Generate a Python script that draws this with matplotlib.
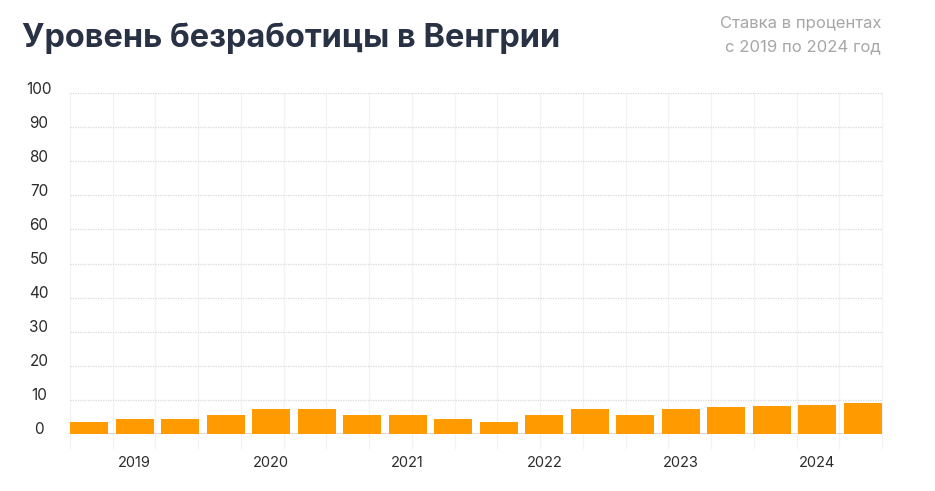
import matplotlib
matplotlib.use("Agg")
import matplotlib.pyplot as plt
import matplotlib.transforms as mtransforms
import numpy as np

plt.rcParams['font.family'] = ['Inter', 'DejaVu Sans']

# ---- data ----
quarters = ["2019 Q1", "2019 Q2", "2019 Q3",
            "2020 Q1", "2020 Q2", "2020 Q3",
            "2021 Q1", "2021 Q2", "2021 Q3",
            "2022 Q1", "2022 Q2", "2022 Q3",
            "2023 Q1", "2023 Q2", "2023 Q3",
            "2024 Q1", "2024 Q2", "2024 Q3"]
rates = [3.5, 4.3, 4.3, 5.7, 7.2, 7.2, 5.7, 5.7, 4.3,
         3.5, 5.7, 7.2, 5.7, 7.2, 7.8, 8.3, 8.6, 9.0]
year_labels = ["2019", "2020", "2021", "2022", "2023", "2024"]
y_ticks = [0, 10, 20, 30, 40, 50, 60, 70, 80, 90, 100]

title = "Уровень безработицы в Венгрии"
subtitle_lines = ["Ставка в процентах", "с 2019 по 2024 год"]

W, H = 935, 491
fig = plt.figure(figsize=(W / 100, H / 100), dpi=100)
fig.patch.set_facecolor("white")

left, right, bottom, top = 70, 882, 434, 93
ax = fig.add_axes([left / W, 1 - bottom / H, (right - left) / W, (bottom - top) / H])

x = np.arange(len(rates))
bw = 0.84
ax.bar(x, rates, width=bw, color="#ff9a00", zorder=3)
ax.set_xlim(-bw / 2, len(rates) - 1 + bw / 2)
ax.set_ylim(0, 100)

for s in ax.spines.values():
    s.set_visible(False)

# horizontal dotted grid
for v in y_ticks[1:]:
    ax.axhline(v, color="#dadada", lw=0.9, ls=(0, (1, 1)), zorder=1)
# baseline
ax.axhline(0, color="#dcdcdc", lw=2.2, zorder=2)
# faint vertical grid
for fx in np.linspace(0, 1, 20):
    ax.plot([fx, fx], [-0.04, 1.0], transform=ax.transAxes, color="#f3f3f3",
            lw=0.9, zorder=0, clip_on=False)

ax.set_yticks([])
ax.set_xticks(x[1::3])
ax.set_xticklabels(year_labels, fontsize=10.5, color="#2b2b2b")
ax.tick_params(axis="x", length=0, pad=16)

# y labels centered at x≈39 px, slightly raised
trans = ax.get_yaxis_transform() + mtransforms.ScaledTranslation(0, 4 / 100, fig.dpi_scale_trans)
for v in y_ticks:
    ax.text(-(left - 39) / (right - left), v, str(v), transform=trans,
            ha="center", va="center", fontsize=11, color="#2b2b2b")

fig.text(22 / W, 1 - 47 / H, title, fontsize=23.4, fontweight="bold",
         color="#283244", ha="left", va="baseline")
fig.text(881 / W, 1 - 28 / H, subtitle_lines[0], fontsize=12,
         color="#a6a6a6", ha="right", va="baseline")
fig.text(881 / W, 1 - 51 / H, subtitle_lines[1], fontsize=12,
         color="#a6a6a6", ha="right", va="baseline")

fig.savefig("out.png", dpi=100, facecolor="white")
